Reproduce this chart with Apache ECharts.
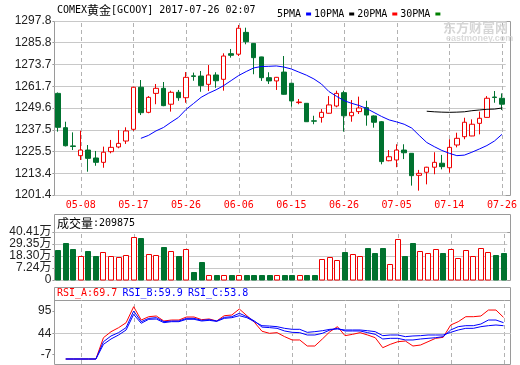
<!DOCTYPE html>
<html><head><meta charset="utf-8">
<script src="https://cdn.jsdelivr.net/npm/echarts@6/dist/echarts.min.js"></script>
<style>html,body{margin:0;padding:0;background:#fff}#c{width:520px;height:365px}</style>
</head><body><div id="c"></div>
<script>
const dates = ['05-03','05-04','05-05','05-08','05-09','05-10','05-11','05-12','05-15','05-16',
'05-17','05-18','05-19','05-22','05-23','05-24','05-25','05-26','05-29','05-30',
'05-31','06-01','06-02','06-05','06-06','06-07','06-08','06-09','06-12','06-13',
'06-14','06-15','06-16','06-19','06-20','06-21','06-22','06-23','06-26','06-27',
'06-28','06-29','06-30','07-03','07-04','07-05','07-06','07-07','07-10','07-11',
'07-12','07-13','07-14','07-17','07-18','07-19','07-20','07-21','07-24','07-26'];
const labelDates = ['05-08','05-17','05-26','06-06','06-15','06-26','07-05','07-14','07-26'];

const opens = [1257.7,1238.7,1228.6,1223.2,1226.3,1221.9,1219.5,1225.4,1228.0,1231.3,
1237.8,1261.1,1247.2,1257.7,1260.5,1251.7,1258.3,1255.3,1267.4,1267.3,
1262.7,1267.9,1265.5,1279.7,1279.4,1291.5,1285.4,1277.9,1266.4,1264.6,
1269.5,1263.3,1252.6,1252.2,1242.5,1244.4,1246.7,1250.7,1258.1,1245.3,
1247.6,1249.8,1245.2,1242.0,1220.4,1220.8,1226.3,1224.5,1212.3,1214.0,
1216.8,1219.0,1216.5,1229.1,1233.7,1234.1,1241.1,1244.4,1255.7,1255.0];
const closes = [1238.9,1228.7,1228.3,1226.3,1221.7,1219.5,1225.1,1227.8,1230.0,1236.9,
1261.1,1247.0,1255.5,1260.5,1250.9,1258.3,1255.3,1266.6,1267.1,1262.0,
1267.9,1264.7,1278.4,1278.8,1293.8,1286.3,1277.5,1266.4,1264.6,1266.6,
1257.2,1253.5,1252.9,1242.0,1242.3,1247.2,1251.3,1257.7,1245.3,1247.2,
1249.6,1245.7,1241.7,1219.9,1222.6,1226.3,1224.8,1212.1,1213.4,1216.8,
1219.5,1217.1,1227.8,1232.8,1241.7,1240.6,1243.9,1255.0,1255.4,1251.7];
const lows = [1236.5,1228.3,1226.3,1220.8,1214.3,1217.6,1216.5,1224.5,1227.3,1229.7,
1236.9,1245.7,1246.7,1251.7,1250.6,1247.6,1253.6,1252.5,1264.7,1258.6,
1259.0,1260.8,1259.2,1277.5,1278.4,1284.9,1268.3,1264.6,1262.9,1259.6,
1257.0,1250.3,1251.7,1241.9,1240.6,1241.5,1246.5,1250.0,1236.5,1242.0,
1246.3,1239.8,1238.7,1218.4,1220.1,1216.8,1221.3,1206.6,1203.8,1207.3,
1212.9,1215.6,1213.8,1227.8,1232.3,1234.0,1235.0,1244.3,1252.5,1248.5];
const highs = [1258.2,1242.0,1236.1,1237.0,1229.1,1225.8,1228.2,1231.9,1237.4,1238.9,
1261.3,1265.1,1256.2,1262.9,1264.0,1259.2,1259.6,1269.5,1269.2,1270.1,
1273.4,1269.4,1279.9,1282.3,1295.6,1294.1,1285.6,1278.0,1269.4,1266.8,
1278.4,1263.5,1254.6,1252.3,1245.3,1249.0,1256.2,1259.2,1259.2,1254.0,
1255.9,1253.6,1245.5,1242.4,1226.3,1229.5,1229.5,1224.6,1215.3,1217.0,
1225.1,1223.6,1232.3,1235.9,1244.2,1243.3,1247.6,1256.2,1259.0,1257.7];

// volume in 万 (10k)
const volumes = [24.05,29.9,24.98,18.2,23.12,18.48,21.91,18.2,17.27,19.13,
35.84,34.91,20.06,19.41,26.83,22.84,18.48,24.7,3.62,12.9,
0.55,0.55,0.55,0.55,0.55,0.55,0.55,0.55,0.55,0.55,
0.55,0.55,0.55,0.55,0.55,15.41,17.27,14.76,21.54,20.33,
18.2,25.91,20.61,25.91,11.05,34.26,18.48,30.55,22.84,20.98,
24.7,21.26,24.7,16.62,23.77,18.2,25.63,21.91,19.41,20.99];

const ma5 = [null,null,null,null,null,null,null,null,null,null,null,
1232.8,1234.4,1236.9,1238.8,1241.7,1244.4,1248.8,1252.1,1255.5,1257.8,
1259.7,1262.0,1264.8,1267.6,1269.8,1271.8,1272.6,1272.7,1272.9,1272.3,
1271.2,1269.5,1267.8,1265.7,1262.9,1258.7,1256.1,1253.7,1252.2,1251.0,
1249.3,1247.1,1244.9,1243.0,1241.9,1240.6,1238.5,1234.4,1230.5,1228.2,
1226.1,1224.5,1223.2,1223.5,1225.1,1226.9,1228.8,1231.3,1235.0];
const ma10 = [null,null,null,null,null,null,null,null,null,null,
null,null,null,null,null,null,null,null,null,null,
null,null,null,null,null,null,null,null,null,null,
null,null,null,null,null,null,null,null,null,null,
null,null,null,null,null,null,null,null,null,
1247.8,1247.5,1247.3,1247.2,1247.3,1247.5,1248.1,1248.5,1248.9,1249.0,1249.6];

const rsiA = [null,-10.4,-10.4,-10.4,-10.4,-10.4,30.6,42.1,49.8,59.4,
90.2,64.6,71.0,72.3,62.7,64.6,64.6,70.4,70.4,65.3,
66.6,62.7,72.9,74.2,85.8,72.9,60.2,43.0,39.0,40.3,
32.6,26.2,26.2,14.6,14.6,28.1,42.2,51.8,34.5,37.1,
40.3,35.8,30.6,11.4,17.8,22.9,24.2,14.6,16.5,22.9,
29.4,31.3,55.0,61.4,71.0,71.0,72.3,83.8,83.8,69.7];
const rsiB = [null,-10.4,-10.4,-10.4,-10.4,-10.4,22.9,33.9,40.3,50.0,
81.9,61.4,67.8,69.1,61.4,62.7,62.7,67.8,67.8,64.0,
65.3,62.7,69.7,71.0,77.5,71.0,62.7,51.0,50.0,48.6,
43.5,40.9,40.3,35.8,35.8,39.0,45.4,48.6,43.5,43.5,
43.5,40.3,37.1,28.1,29.4,29.4,26.2,26.2,28.1,29.4,
30.6,32.6,45.4,51.8,53.7,53.7,56.9,64.6,64.6,59.5];
const rsiC = [null,-10.4,-10.4,-10.4,-10.4,-10.4,17.8,28.1,35.8,45.4,
75.5,58.3,66.0,66.5,59.5,61.4,61.4,66.0,66.0,62.7,
64.0,62.0,67.8,69.1,72.9,69.1,61.4,53.7,53.0,51.8,
48.6,46.7,46.7,40.9,42.2,44.0,46.7,47.3,45.4,45.4,
45.4,44.0,42.2,34.5,35.8,35.8,32.6,33.9,34.5,35.8,
35.8,35.8,40.9,45.4,48.6,48.6,51.8,53.7,55.0,53.7];

const priceTickLabels = ['1201.4','1213.4','1225.5','1237.5','1249.6','1261.7','1273.7','1285.8','1297.8'];
const volTickLabels = ['0','7.24万','18.30万','29.35万','40.41万'];
const rsiTickLabels = ['-7','44','95'];
const rsiTickValues = [-1.3, 39.0, 81.9];

const PRICE_MIN = 1201.4, PRICE_MAX = 1297.8, PRICE_STEP = 12.05;
const VOL_MIN = -3.81, VOL_MAX = 40.41, VOL_STEP = 11.055;
const RSI_MIN = -20, RSI_MAX = 103.1;

const RED = '#ee0000', GREEN = '#00722f', BLUE = '#0000ff';
const GRIDC = '#c8c8c8', DASHC = '#b2b2b2', FRAMEC = '#9a9a9a';
const MONO = "'DejaVu Sans Mono', monospace";
const SANS = "'Liberation Sans','Noto Sans CJK SC', sans-serif";
const CJK = "'Noto Sans CJK SC', sans-serif";

const candleData = dates.map((d, i) => [opens[i], closes[i], lows[i], highs[i]]);
const volData = dates.map((d, i) => [i, volumes[i], closes[i] >= opens[i] ? 1 : -1]);

const L = 54.4, W = 452.9;
const grids = [
  {left: L, width: W, top: 21, height: 174},
  {left: L, width: W, top: 232, height: 48},
  {left: L, width: W, top: 300, height: 64}
];
const yRanges = [[PRICE_MIN, PRICE_MAX], [VOL_MIN, VOL_MAX], [RSI_MIN, RSI_MAX]];

function xAx(idx, showLabel) {
  return {
    type: 'category', gridIndex: idx, data: dates, boundaryGap: true,
    axisLine: {show: false}, axisTick: {show: false}, splitLine: {show: false},
    axisLabel: showLabel ? {
      show: true, color: '#ff0000', fontFamily: MONO, fontSize: 10, margin: 5,
      interval: (i) => labelDates.indexOf(dates[i]) >= 0
    } : {show: false}
  };
}

// dashed vertical guides at labelled dates, positioned through the axis scales
function guideSeries(idx) {
  const r = yRanges[idx];
  return {
    type: 'custom', name: 'guide' + idx, xAxisIndex: idx, yAxisIndex: idx, z: 12, silent: true,
    clip: false,
    data: labelDates.map(d => [d, r[0], r[1]]),
    encode: {x: 0, y: [1, 2]},
    renderItem: (params, api) => {
      const p0 = api.coord([api.value(0), api.value(1)]);
      const p1 = api.coord([api.value(0), api.value(2)]);
      const x = Math.round(p0[0]) + 0.5;
      return {type: 'line', shape: {x1: x, y1: p0[1], x2: x, y2: p1[1]},
        style: {stroke: DASHC, lineWidth: 1, lineDash: [4, 3], fill: 'none'}};
    }
  };
}

const chart = echarts.init(document.getElementById('c'), null, {renderer: 'canvas'});
chart.setOption({
  animation: false,
  backgroundColor: '#ffffff',
  grid: grids,
  legend: {
    data: ['5PMA','10PMA','20PMA','30PMA'],
    left: 272, top: 4, align: 'right', icon: 'rect',
    itemWidth: 5, itemHeight: 3, itemGap: 3,
    textStyle: {fontFamily: MONO, fontSize: 10, color: '#000'},
    selectedMode: false
  },
  xAxis: [xAx(0, true), xAx(1, false), xAx(2, false)],
  yAxis: [
    {type: 'value', gridIndex: 0, min: PRICE_MIN, max: PRICE_MAX, interval: PRICE_STEP,
     axisLine: {show: false}, axisTick: {show: true, length: 2, lineStyle: {color: FRAMEC}},
     splitLine: {show: true, lineStyle: {color: GRIDC}},
     axisLabel: {color: '#222', fontFamily: SANS, fontSize: 12, margin: 3,
       formatter: v => priceTickLabels[Math.round((v - PRICE_MIN) / PRICE_STEP)]}},
    {type: 'value', gridIndex: 1, min: VOL_MIN, max: VOL_MAX, interval: VOL_STEP,
     axisLine: {show: false}, axisTick: {show: true, length: 2, lineStyle: {color: FRAMEC}},
     splitLine: {show: true, lineStyle: {color: GRIDC}},
     axisLabel: {color: '#222', fontFamily: SANS, fontSize: 12, margin: 3,
       formatter: v => volTickLabels[Math.round((v - VOL_MIN) / VOL_STEP)]}},
    {type: 'value', gridIndex: 2, min: RSI_MIN, max: RSI_MAX,
     axisLine: {show: false},
     axisTick: {show: true, length: 2, lineStyle: {color: FRAMEC}, customValues: rsiTickValues},
     splitLine: {show: false},
     axisLabel: {color: '#222', fontFamily: SANS, fontSize: 12, margin: 3,
       customValues: rsiTickValues,
       formatter: v => rsiTickLabels[rsiTickValues.indexOf(v)]}}
  ],
  series: [
    guideSeries(0), guideSeries(1), guideSeries(2),
    {
      type: 'custom', name: 'rsi44', xAxisIndex: 2, yAxisIndex: 2, z: 12, silent: true, clip: false,
      data: [[0, rsiTickValues[1]]], encode: {x: 0, y: 1},
      renderItem: (params, api) => {
        const cs = params.coordSys;
        const p = api.coord([api.value(0), api.value(1)]);
        const y = Math.round(p[1]) + 0.5;
        return {type: 'line', shape: {x1: cs.x, y1: y, x2: cs.x + cs.width + 3.5, y2: y},
          style: {stroke: GRIDC, lineWidth: 1, fill: 'none'}};
      }
    },
    {
      name: 'K', type: 'candlestick', xAxisIndex: 0, yAxisIndex: 0, data: candleData,
      barWidth: 5, z: 20, silent: true,
      itemStyle: {color: '#ffffff', color0: GREEN, borderColor: RED, borderColor0: GREEN, borderWidth: 1}
    },
    {name: '5PMA', type: 'line', xAxisIndex: 0, yAxisIndex: 0, data: ma5, showSymbol: false, symbol: 'none',
     lineStyle: {color: BLUE, width: 1}, itemStyle: {color: BLUE}, z: 21, silent: true},
    {name: '10PMA', type: 'line', xAxisIndex: 0, yAxisIndex: 0, data: ma10, showSymbol: false, symbol: 'none',
     lineStyle: {color: '#000', width: 1}, itemStyle: {color: '#000'}, z: 21, silent: true},
    {name: '20PMA', type: 'line', xAxisIndex: 0, yAxisIndex: 0, data: [], symbol: 'none',
     lineStyle: {color: '#ff0000', width: 1}, itemStyle: {color: '#ff0000'}},
    {name: '30PMA', type: 'line', xAxisIndex: 0, yAxisIndex: 0, data: [], symbol: 'none',
     lineStyle: {color: '#008000', width: 1}, itemStyle: {color: '#008000'}},
    {
      name: 'VOL', type: 'custom', xAxisIndex: 1, yAxisIndex: 1, data: volData, z: 20, silent: true,
      encode: {x: 0, y: 1},
      renderItem: (params, api) => {
        const i = api.value(0), v = api.value(1), up = api.value(2) > 0;
        const top = api.coord([i, v]);
        const bot = api.coord([i, VOL_MIN]);
        const x = Math.round(top[0] - 3) + 0.5;
        const y = Math.round(top[1]) + 0.5;
        return {type: 'rect', shape: {x: x, y: y, width: 5, height: bot[1] - y},
          style: {fill: up ? '#ffffff' : GREEN, stroke: up ? RED : GREEN, lineWidth: 1}};
      }
    },
    {name: 'RSI_A', type: 'line', xAxisIndex: 2, yAxisIndex: 2, data: rsiA, showSymbol: false, symbol: 'none',
     lineStyle: {color: '#ff0000', width: 1}, z: 20, silent: true},
    {name: 'RSI_C', type: 'line', xAxisIndex: 2, yAxisIndex: 2, data: rsiC, showSymbol: false, symbol: 'none',
     lineStyle: {color: BLUE, width: 1}, z: 21, silent: true},
    {name: 'RSI_B', type: 'line', xAxisIndex: 2, yAxisIndex: 2, data: rsiB, showSymbol: false, symbol: 'none',
     lineStyle: {color: BLUE, width: 1}, z: 21, silent: true}
  ],
  graphic: [
    {type: 'rect', z: 0, silent: true, shape: {x: 54.5, y: 21.5, width: 456, height: 174}, style: {fill: 'none', stroke: FRAMEC, lineWidth: 1}},
    {type: 'rect', z: 0, silent: true, shape: {x: 54.5, y: 214.5, width: 456, height: 66}, style: {fill: 'none', stroke: FRAMEC, lineWidth: 1}},
    {type: 'line', z: 0, silent: true, shape: {x1: 54.5, y1: 232.5, x2: 510.5, y2: 232.5}, style: {stroke: FRAMEC, lineWidth: 1}},
    {type: 'rect', z: 0, silent: true, shape: {x: 54.5, y: 287.5, width: 456, height: 77}, style: {fill: 'none', stroke: FRAMEC, lineWidth: 1}},
    {type: 'line', z: 0, silent: true, shape: {x1: 54.5, y1: 300.5, x2: 510.5, y2: 300.5}, style: {stroke: FRAMEC, lineWidth: 1}},
    {type: 'text', z: 30, silent: true, x: 57, y: 10.5,
     style: {text: '{a|COMEX}{b|黄金}{a|[GCOOY] 2017-07-26 02:07}', verticalAlign: 'middle',
       rich: {a: {fontFamily: MONO, fontSize: 10, fill: '#000'}, b: {fontFamily: CJK, fontSize: 12, fill: '#000'}}}},
    {type: 'text', z: 30, silent: true, x: 57, y: 223,
     style: {text: '{b|成交量}{a|:209875}', verticalAlign: 'middle',
       rich: {a: {fontFamily: MONO, fontSize: 10, fill: '#000'}, b: {fontFamily: CJK, fontSize: 12, fill: '#000'}}}},
    {type: 'text', z: 30, silent: true, x: 57, y: 293.5,
     style: {text: 'RSI_A:69.7', fill: '#ff0000', font: "10px 'DejaVu Sans Mono'", verticalAlign: 'middle'}},
    {type: 'text', z: 30, silent: true, x: 122.5, y: 293.5,
     style: {text: 'RSI_B:59.9', fill: BLUE, font: "10px 'DejaVu Sans Mono'", verticalAlign: 'middle'}},
    {type: 'text', z: 30, silent: true, x: 188, y: 293.5,
     style: {text: 'RSI_C:53.8', fill: BLUE, font: "10px 'DejaVu Sans Mono'", verticalAlign: 'middle'}},
    {type: 'text', z: 30, silent: true, x: 443, y: 27.5,
     style: {text: '东方财富网', fill: '#d6d6d6', font: "bold 13px 'Noto Sans CJK SC'", verticalAlign: 'middle'}},
    {type: 'text', z: 30, silent: true, x: 446, y: 39,
     style: {text: 'eastmoney.com', fill: '#dadada', font: "bold 9px 'Liberation Sans'", verticalAlign: 'middle'}}
  ]
});
</script></body></html>
